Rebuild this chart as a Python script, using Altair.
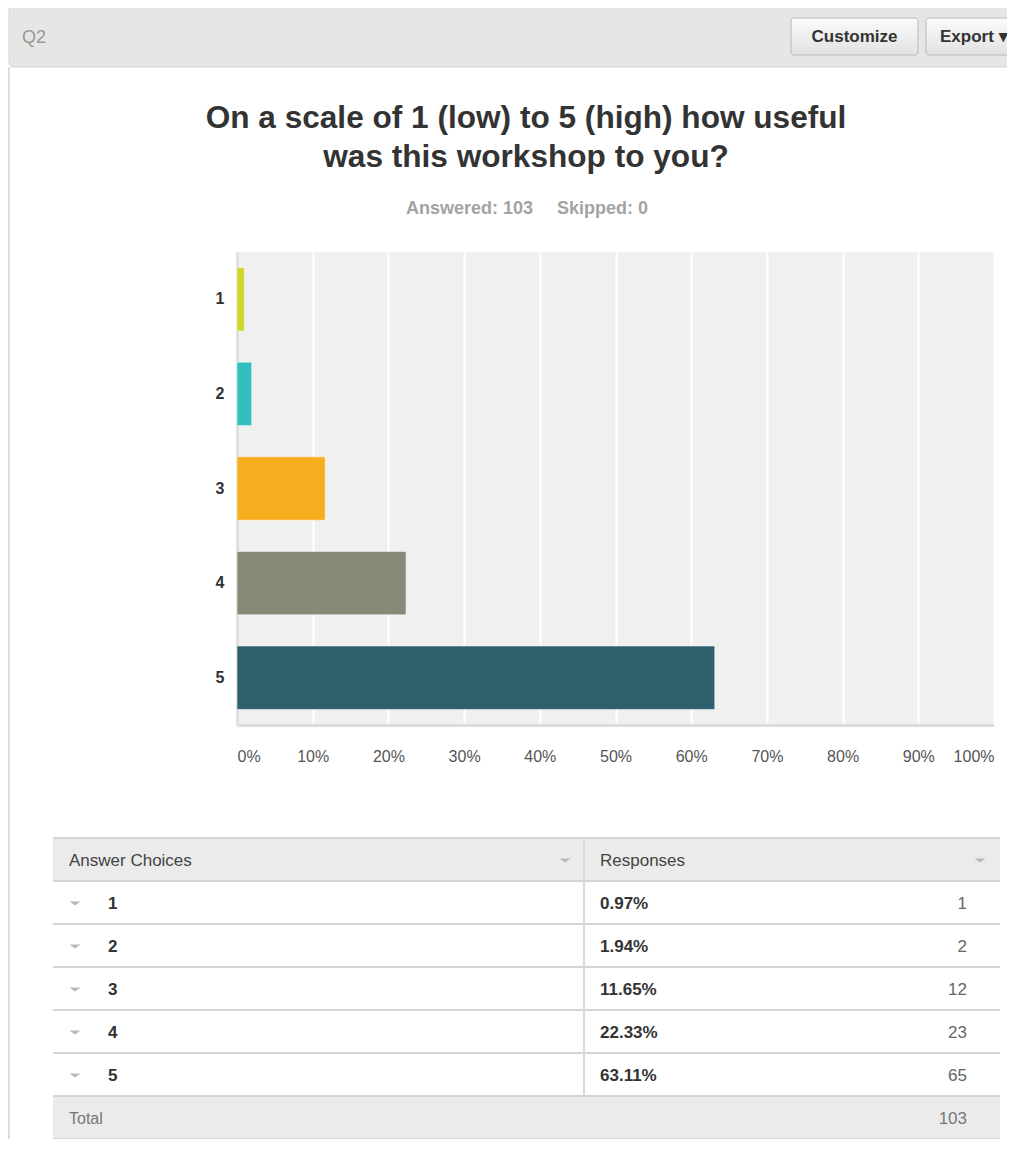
import altair as alt
import pandas as pd

# ---------------- data ----------------
CHOICES = ["1", "2", "3", "4", "5"]
PERCENTS = [0.97, 1.94, 11.65, 22.33, 63.11]
COUNTS = [1, 2, 12, 23, 65]
BAR_COLORS = ["#cfd52b", "#31bfbf", "#f6ad1e", "#888a78", "#2e5f6d"]
X_TICKS = [0, 10, 20, 30, 40, 50, 60, 70, 80, 90, 100]
QUESTION_ID = "Q2"
TITLE_LINES = ["On a scale of 1 (low) to 5 (high) how useful", "was this workshop to you?"]
ANSWERED = 103
SKIPPED = 0
BUTTONS = ["Customize", "Export \u25BE"]
TABLE_HEADERS = ["Answer Choices", "Responses"]
TOTAL_LABEL = "Total"

# ---------------- layout helpers ----------------
FONT = "Liberation Sans"
OX, OY = 237, 252      # page position of plot origin
W, H = 757, 473        # plot area


def px(x):
    return x - OX


def py(y):
    return y - OY


one = pd.DataFrame({"k": [0]})


def rect(x1, y1, x2, y2, **kw):
    return alt.Chart(one).mark_rect(**kw).encode(
        x=alt.value(px(x1)), x2=alt.value(px(x2)),
        y=alt.value(py(y1)), y2=alt.value(py(y2)))


def hline(x1, x2, y, color, width):
    return alt.Chart(one).mark_rule(color=color, strokeWidth=width).encode(
        x=alt.value(px(x1)), x2=alt.value(px(x2)), y=alt.value(py(y)))


def vline(x, y1, y2, color, width):
    return alt.Chart(one).mark_rule(color=color, strokeWidth=width).encode(
        x=alt.value(px(x)), y=alt.value(py(y1)), y2=alt.value(py(y2)))


def label(text, x, y, **kw):
    kw.setdefault("font", FONT)
    return alt.Chart(one).mark_text(**kw).encode(
        x=alt.value(px(x)), y=alt.value(py(y)), text=alt.value(text))


TRI = "M-1,-0.36L1,-0.36L0,0.36Z"
TRI_SIZE = 121


def tri(x, y):
    return alt.Chart(one).mark_point(shape=TRI, filled=True, size=TRI_SIZE, color="#b8b8b8",
                                     opacity=1).encode(
        x=alt.value(px(x)), y=alt.value(py(y)))


layers = []

# ---------------- header bar ----------------
layers.append(rect(9, 5, 1030, 67, fill="#e6e6e4", stroke="#d4d4d4", strokeWidth=1, cornerRadius=4))
layers.append(vline(9, 67, 1151, "#dddddd", 2))
layers.append(label(QUESTION_ID, 22, 43, fontSize=18, color="#999999", align="left", baseline="alphabetic"))
grad = alt.LinearGradient(gradient="linear", x1=0, x2=0, y1=0, y2=1,
                          stops=[alt.GradientStop(color="#fbfbfb", offset=0),
                                 alt.GradientStop(color="#e2e2e2", offset=1)])
layers.append(rect(791, 18, 918, 55, fill=grad, stroke="#b9b9b9", strokeWidth=1, cornerRadius=3))
layers.append(rect(926, 18, 1030, 55, fill=grad, stroke="#b9b9b9", strokeWidth=1, cornerRadius=3))
layers.append(label(BUTTONS[0], 854.5, 37, fontSize=17, fontWeight="bold", color="#333333",
                    align="center", baseline="middle"))
layers.append(label(BUTTONS[1], 940, 37, fontSize=17, fontWeight="bold", color="#333333",
                    align="left", baseline="middle"))

# ---------------- title ----------------
for i, line in enumerate(TITLE_LINES):
    layers.append(label(line, 526, 128 + 39 * i, fontSize=31.6, fontWeight="bold", color="#333333",
                        align="center", baseline="alphabetic"))
layers.append(label(f"Answered: {ANSWERED}", 406, 214, fontSize=18, fontWeight="bold",
                    color="#a3a3a3", align="left", baseline="alphabetic"))
layers.append(label(f"Skipped: {SKIPPED}", 557, 214, fontSize=18, fontWeight="bold",
                    color="#a3a3a3", align="left", baseline="alphabetic"))

# ---------------- bar chart ----------------
bars_df = pd.DataFrame({"choice": CHOICES, "pct": PERCENTS})
bars = alt.Chart(bars_df).mark_bar(stroke="white", strokeWidth=1, strokeOpacity=0.5).encode(
    y=alt.Y("choice:N", sort=CHOICES,
            scale=alt.Scale(domain=CHOICES, paddingInner=0.33, paddingOuter=0.165),
            axis=alt.Axis(title=None, ticks=False, tickSize=0, labelPadding=13,
                          labelFont=FONT, labelFontSize=16, labelFontWeight="bold",
                          labelColor="#333333", domain=True, domainColor="#e0e0e0",
                          domainWidth=3, grid=False)),
    x=alt.X("pct:Q", scale=alt.Scale(domain=[0, 100], nice=False, zero=True),
            axis=alt.Axis(title=None, values=X_TICKS, labelExpr="datum.value + '%'",
                          ticks=False, tickSize=0, labelPadding=23, labelFlush=True,
                          labelFont=FONT, labelFontSize=16, labelColor="#555555",
                          grid=True, gridColor="#ffffff", gridWidth=2,
                          domain=True, domainColor="#dcdcdc", domainWidth=3)),
    color=alt.Color("choice:N", scale=alt.Scale(domain=CHOICES, range=BAR_COLORS), legend=None),
)
layers.append(bars)

# ---------------- table ----------------
TL, TR, TDIV = 53, 1000, 584
ROW_H = 43
T_TOP = 838
n = len(CHOICES)
body_top = T_TOP + ROW_H
body_bot = body_top + n * ROW_H
t_bot = body_bot + ROW_H

layers.append(rect(TL, T_TOP, TR, body_top, fill="#ebebeb"))
layers.append(rect(TL, body_bot, TR, t_bot, fill="#ebebeb"))
for i in range(n + 3):
    layers.append(hline(TL, TR, T_TOP + ROW_H * i, "#d6d6d6", 2))
layers.append(vline(TDIV, T_TOP, body_bot, "#d9d9d9", 2))

hy = T_TOP + ROW_H / 2 + 1
layers.append(label(TABLE_HEADERS[0], 69, hy, fontSize=17, color="#444444", align="left", baseline="middle"))
layers.append(label(TABLE_HEADERS[1], 600, hy, fontSize=17, color="#444444", align="left", baseline="middle"))
layers.append(tri(565, hy))
layers.append(tri(980, hy))

table_df = pd.DataFrame({
    "choice": CHOICES,
    "pct_label": [f"{p:.2f}%" for p in PERCENTS],
    "count": [str(c) for c in COUNTS],
})
ty = alt.Y("choice:N", sort=CHOICES,
           scale=alt.Scale(domain=CHOICES, range=[py(body_top) + 1, py(body_bot) + 1],
                           paddingInner=0, paddingOuter=0),
           axis=None)
base_t = alt.Chart(table_df)
layers.append(base_t.mark_point(shape=TRI, filled=True, size=TRI_SIZE, color="#b8b8b8", opacity=1).encode(
    x=alt.value(px(75)), y=ty))
layers.append(base_t.mark_text(font=FONT, fontSize=17, fontWeight="bold", color="#333333",
                               align="left", baseline="middle").encode(
    x=alt.value(px(108)), y=ty, text="choice:N"))
layers.append(base_t.mark_text(font=FONT, fontSize=17, fontWeight="bold", color="#333333",
                               align="left", baseline="middle").encode(
    x=alt.value(px(600)), y=ty, text="pct_label:N"))
layers.append(base_t.mark_text(font=FONT, fontSize=17, color="#666666",
                               align="right", baseline="middle").encode(
    x=alt.value(px(967)), y=ty, text="count:N"))

ty_total = body_bot + ROW_H / 2 + 1
layers.append(label(TOTAL_LABEL, 69, ty_total, fontSize=16, color="#777777", align="left", baseline="middle"))
layers.append(label(str(sum(COUNTS)), 967, ty_total, fontSize=17, color="#777777", align="right", baseline="middle"))

chart = alt.layer(*layers).resolve_scale(y="independent").properties(
    width=W, height=H,
    padding={"left": OX - 8, "top": OY - 8, "right": 999 - (OX - 8) - W, "bottom": 1131 - (OY - 8) - H},
    autosize=alt.AutoSizeParams(type="none"),
    background="white",
).configure_view(fill="#f0f0f0", stroke=None)

chart.save("out.html", embed_options={"renderer": "svg", "actions": False})
